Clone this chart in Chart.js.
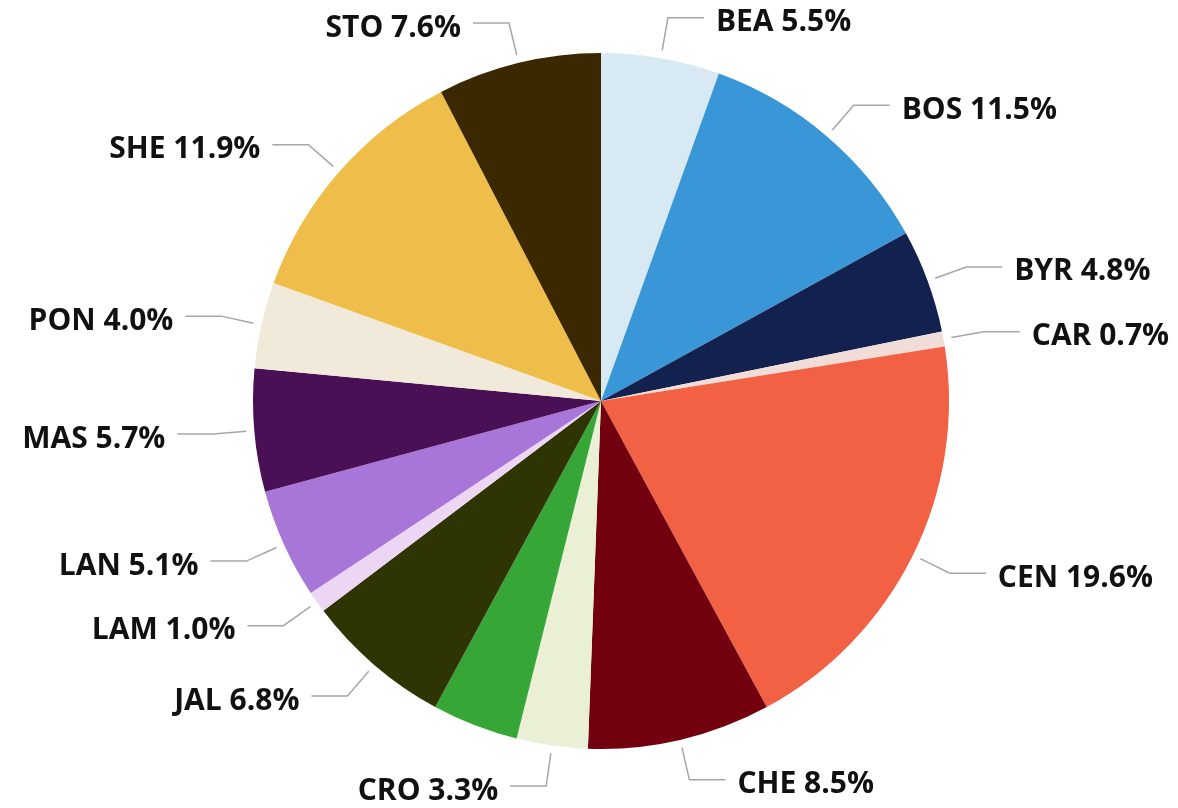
<!DOCTYPE html>
<html>
<head>
<meta charset="utf-8">
<script src="https://cdn.jsdelivr.net/npm/chart.js@4"></script>
<style>
  html, body { margin: 0; padding: 0; background: #fff; }
  #wrap { width: 1178px; height: 808px; }
</style>
</head>
<body>
<div id="wrap"><canvas id="pieChart"></canvas></div>
<script>
// categories (one slice has no visible label in the original)
var labels = ['BEA', 'BOS', 'BYR', 'CAR', 'CEN', 'CHE', 'CRO', '', 'JAL', 'LAM', 'LAN', 'MAS', 'PON', 'SHE', 'STO'];
// share in percent
var shares = [5.5, 11.5, 4.8, 0.7, 19.6, 8.5, 3.3, 4.0, 6.8, 1.0, 5.1, 5.7, 4.0, 11.9, 7.6];
var colors = [
  '#d7e9f2', '#3a97d7', '#12214e', '#f2dcd8', '#f26144', '#72000f', '#e9f0d6',
  '#36a736', '#2e3502', '#ecd6f3', '#a875d9', '#4a1055', '#f1e9da', '#efbe4a', '#3b2800'
];

// outside labels with elbow leader lines
var outsideLabels = {
  id: 'outsideLabels',
  afterDatasetsDraw: function(chart) {
    var ctx = chart.ctx;
    var meta = chart.getDatasetMeta(0);
    var total = shares.reduce(function(a, b) { return a + b; }, 0);
    ctx.save();
    ctx.font = 'bold 30px "Open Sans", sans-serif';
    ctx.textBaseline = 'middle';
    meta.data.forEach(function(arc, i) {
      if (!labels[i]) return;
      var mid = (arc.startAngle + arc.endAngle) / 2;
      var r = arc.outerRadius;
      var cos = Math.cos(mid), sin = Math.sin(mid);
      var x0 = arc.x + cos * (r + 8), y0 = arc.y + sin * (r + 8);
      var x1 = arc.x + cos * (r + 41), y1 = arc.y + sin * (r + 41);
      var right = cos >= 0;
      var x2 = x1 + (right ? 36 : -36);
      ctx.strokeStyle = '#a6a6a6';
      ctx.lineWidth = 1.5;
      ctx.beginPath();
      ctx.moveTo(x0, y0);
      ctx.lineTo(x1, y1);
      ctx.lineTo(x2, y1);
      ctx.stroke();
      ctx.fillStyle = '#111111';
      ctx.textAlign = right ? 'left' : 'right';
      var txt = labels[i] + ' ' + (shares[i] / total * 100).toFixed(1) + '%';
      ctx.fillText(txt, x2 + (right ? 12 : -12), y1 + 5);
    });
    ctx.restore();
  }
};

var ctx = document.getElementById('pieChart').getContext('2d');
var pieChart = new Chart(ctx, {
  type: 'pie',
  data: {
    labels: labels,
    datasets: [{
      data: shares,
      backgroundColor: colors,
      borderWidth: 0
    }]
  },
  options: {
    responsive: true,
    maintainAspectRatio: false,
    animation: false,
    layout: { padding: { top: 53, bottom: 59, left: 24, right: 0 } },
    plugins: {
      legend: { display: false },
      tooltip: { enabled: false }
    }
  },
  plugins: [outsideLabels]
});
</script>
</body>
</html>
